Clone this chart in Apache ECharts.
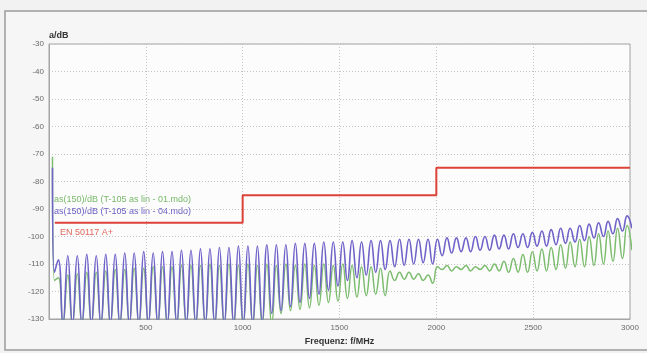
<!DOCTYPE html>
<html>
<head>
<meta charset="utf-8">
<script src="https://cdn.jsdelivr.net/npm/echarts@6/dist/echarts.min.js"></script>
<style>
  html, body { margin: 0; padding: 0; background: #f2f2f2; }
  #chart { width: 647px; height: 353px; }
</style>
</head>
<body>
<div id="chart"></div>
<script>
// x ticks and y ticks
const xTicks = [0, 500, 1000, 1500, 2000, 2500, 3000];
const yTicks = [-130, -120, -110, -100, -90, -80, -70, -60, -50, -40, -30];

// EN 50117 A+ limit (step)
const limitMHz = [30, 1000, 2000, 3000];
const limitDb = [-95, -85, -75, -75];

// start of both traces (steep fall from the left edge)
const startMHz = [18, 28];
const greenStart = [-71, -116];
const purpleStart = [-75, -113];

// ripple maxima / minima
const peakMHz = [48, 97, 146, 195, 244, 293, 342, 391, 440, 489, 538, 586, 635, 684, 733, 782, 831, 880, 929, 978,
  1027, 1076, 1125, 1174, 1223, 1272, 1321, 1370, 1419, 1468, 1517, 1565, 1614, 1663, 1712, 1761, 1810, 1859, 1908, 1957,
  2006, 2055, 2104, 2153, 2202, 2251, 2300, 2349, 2398, 2447, 2496, 2545, 2593, 2642, 2691, 2740, 2789, 2838, 2887, 2936, 2985];
const troughMHz = [72, 121, 170, 219, 268, 317, 366, 415, 464, 513, 562, 611, 660, 709, 758, 807, 856, 905, 954, 1003,
  1052, 1101, 1150, 1198, 1247, 1296, 1345, 1394, 1443, 1492, 1541, 1590, 1638, 1687, 1736, 1785, 1834, 1883, 1932, 1981,
  2030, 2079, 2128, 2177, 2226, 2275, 2324, 2373, 2422, 2471, 2520, 2569, 2618, 2667, 2716, 2765, 2814, 2863, 2912, 2961, 3010];

const purplePeak = [-108.5, -107, -107, -106.5, -107, -106.5, -106.5, -106, -106, -105.5, -106, -105.5, -105.5, -105, -105, -104.5, -104.5, -104, -104, -103.5,
  -103.5, -103.5, -103, -103, -103, -102.5, -102.5, -102.5, -102, -102, -102, -101.5, -102, -101.5, -101.5, -101.5, -101, -101, -101, -101,
  -101, -100.5, -100.5, -100.5, -100, -100, -99.5, -99.5, -99, -99, -98.5, -98, -97.5, -97, -97, -96, -95.5, -95, -94.5, -93.5, -92.5];
const purpleTrough = [-132, -132, -132, -132, -132, -132, -132, -132, -132, -132, -132, -132, -132, -132, -132, -132, -132, -132, -132, -132,
  -132, -131, -128, -127, -125.5, -124, -122.5, -121, -119.5, -118, -116, -115, -114, -113, -112, -111, -110.5, -110, -109.5, -110,
  -107, -106, -105.5, -105.5, -105, -105, -104.5, -104.5, -104, -104, -103.5, -103.5, -103, -102.5, -102, -101.5, -100.5, -100, -99, -98, -97];

const greenPeak = [-115, -114, -113.5, -113, -113, -112.5, -112, -112, -111.5, -111.5, -111, -111, -111, -110.5, -110.5, -110.5, -110, -110.5, -110, -110.5,
  -110, -110.5, -110, -110.5, -110, -110.5, -110, -110.5, -110, -110.5, -110, -110.5, -111, -111, -111.5, -112.5, -113, -113, -113.5, -114,
  -111, -110.5, -111, -110.5, -111, -110.5, -110, -109, -108, -106.5, -105.5, -104.5, -104, -103, -102, -101, -100, -99, -98, -97, -96];
const greenTrough = [-132, -132, -132, -132, -132, -132, -132, -132, -132, -132, -132, -132, -132, -132, -132, -132, -132, -132, -132, -132,
  -132, -132, -132, -128, -127, -126.5, -126, -125, -124, -123.5, -122.5, -122, -121.5, -121, -121.5, -116, -115.5, -115.5, -116, -117,
  -112, -112.5, -112, -112.5, -112, -112.5, -112.5, -113, -113, -113, -112.5, -112.5, -112, -111.5, -111, -111, -110.5, -110, -109, -108, -105];

function ripple(start, peaks, troughs) {
  const pts = startMHz.map((f, i) => [f, start[i]]);
  peakMHz.forEach((f, i) => {
    pts.push([f, peaks[i]]);
    pts.push([troughMHz[i], troughs[i]]);
  });
  return pts;
}

const chart = echarts.init(document.getElementById('chart'));
const fontFamily = 'Liberation Sans, Arial, sans-serif';
const labelFont = { color: '#6a6a6a', fontSize: 8, fontFamily: fontFamily };

chart.setOption({
  backgroundColor: '#f2f2f2',
  animation: false,
  grid: { left: 49, right: 17, top: 44, bottom: 34, show: true, backgroundColor: '#fcfcfc', borderColor: '#a5a5a5', borderWidth: 1 },
  graphic: [
    { type: 'rect', z: -10, shape: { x: 5, y: 11, width: 660, height: 339 }, style: { fill: '#f6f6f6', stroke: '#9c9c9c', lineWidth: 1.5 } },
    { type: 'text', left: 54, top: 195, style: { text: 'as(150)/dB (T-105 as lin - 01.mdo)', fill: '#78b86a', font: '9px ' + fontFamily } },
    { type: 'text', left: 54, top: 207, style: { text: 'as(150)/dB (T-105 as lin - 04.mdo)', fill: '#6a5ec4', font: '9px ' + fontFamily } },
    { type: 'text', left: 60, top: 228, style: { text: 'EN 50117 A+', fill: '#e0675c', font: '9px ' + fontFamily } }
  ],
  xAxis: {
    type: 'value',
    min: xTicks[0],
    max: xTicks[xTicks.length - 1],
    interval: 500,
    name: 'Frequenz: f/MHz',
    nameLocation: 'middle',
    nameGap: 17,
    nameTextStyle: { color: '#333', fontSize: 9, fontWeight: 'bold', fontFamily: fontFamily },
    axisLine: { lineStyle: { color: '#a5a5a5' } },
    axisTick: { show: false },
    axisLabel: Object.assign({ margin: 5, formatter: (v) => (v === 0 ? '' : String(v)) }, labelFont),
    splitLine: { lineStyle: { color: '#c4c4c4', type: [1, 2] } }
  },
  yAxis: {
    type: 'value',
    min: yTicks[0],
    max: yTicks[yTicks.length - 1],
    interval: 10,
    name: 'a/dB',
    nameLocation: 'end',
    nameGap: 2,
    nameTextStyle: { color: '#333', fontSize: 9, fontWeight: 'bold', align: 'left', fontFamily: fontFamily },
    axisLine: { show: true, lineStyle: { color: '#a5a5a5' } },
    axisTick: { show: false },
    axisLabel: Object.assign({ margin: 5 }, labelFont),
    splitLine: { lineStyle: { color: '#c4c4c4', type: [1, 2] } }
  },
  series: [
    {
      name: 'EN 50117 A+',
      type: 'line',
      step: 'end',
      symbol: 'none',
      data: limitMHz.map((f, i) => [f, limitDb[i]]),
      lineStyle: { color: '#dc4238', width: 2 },
      z: 4
    },
    {
      name: 'as(150)/dB (T-105 as lin - 01.mdo)',
      type: 'line',
      smooth: 0.5,
      symbol: 'none',
      data: ripple(greenStart, greenPeak, greenTrough),
      lineStyle: { color: '#7cbc6e', width: 1.5 },
      z: 2
    },
    {
      name: 'as(150)/dB (T-105 as lin - 04.mdo)',
      type: 'line',
      smooth: 0.5,
      symbol: 'none',
      data: ripple(purpleStart, purplePeak, purpleTrough),
      lineStyle: { color: '#6f62c8', width: 1.6 },
      z: 3
    }
  ]
});
</script>
</body>
</html>
